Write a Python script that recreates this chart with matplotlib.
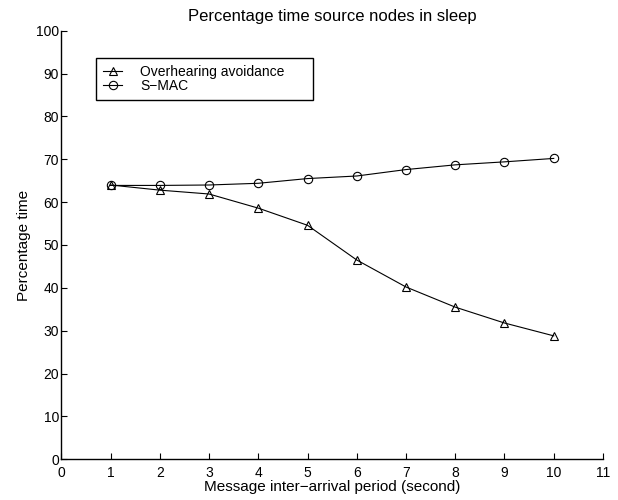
import matplotlib.pyplot as plt

plt.rcParams['font.family'] = ['Liberation Sans', 'DejaVu Sans']

period = [1, 2, 3, 4, 5, 6, 7, 8, 9, 10]
overhearing = [64.0, 62.8, 61.9, 58.6, 54.6, 46.5, 40.2, 35.5, 31.8, 28.8]
smac = [63.9, 63.9, 64.0, 64.4, 65.5, 66.1, 67.6, 68.7, 69.4, 70.2]

xticks = list(range(0, 12))
yticks = list(range(0, 101, 10))


def main():
    fig = plt.figure(figsize=(6.18, 5.0), dpi=100)
    ax = fig.add_axes([0.0992, 0.0814, 0.8765, 0.8572])

    ax.plot(period, overhearing, color='black', lw=0.8, marker='^', ms=6,
            mfc='none', mew=0.8, label='Overhearing avoidance')
    ax.plot(period, smac, color='black', lw=0.8, marker='o', ms=6,
            mfc='none', mew=0.8, label='S\u2212MAC')

    ax.set_xlim(0, 11)
    ax.set_ylim(0, 100)
    ax.set_xticks(xticks)
    ax.set_yticks(yticks)
    ax.tick_params(direction='in', length=4, width=0.8, labelsize=10)
    ax.tick_params(axis='x', pad=5)
    ax.tick_params(axis='y', pad=1.5)
    ax.spines['top'].set_visible(False)
    ax.spines['right'].set_visible(False)
    for s in ('left', 'bottom'):
        ax.spines[s].set_linewidth(1.0)

    ax.set_title('Percentage time source nodes in sleep', fontsize=12, pad=7)
    ax.set_xlabel('Message inter\u2212arrival period (second)', fontsize=11, labelpad=0)
    ax.set_ylabel('Percentage time', fontsize=11, labelpad=4)

    # legend box stretched to the width seen in the original
    leg = ax.legend(loc='upper left', bbox_to_anchor=(0.064, 0.845, 0.400, 0.092),
                    mode='expand', fontsize=10,
                    handlelength=1.4, handletextpad=1.3, borderpad=0.5,
                    labelspacing=0.0, fancybox=False, framealpha=1,
                    edgecolor='black', borderaxespad=0)
    leg.get_frame().set_linewidth(1.0)

    fig.savefig('out.png', dpi=100)


if __name__ == '__main__':
    main()
